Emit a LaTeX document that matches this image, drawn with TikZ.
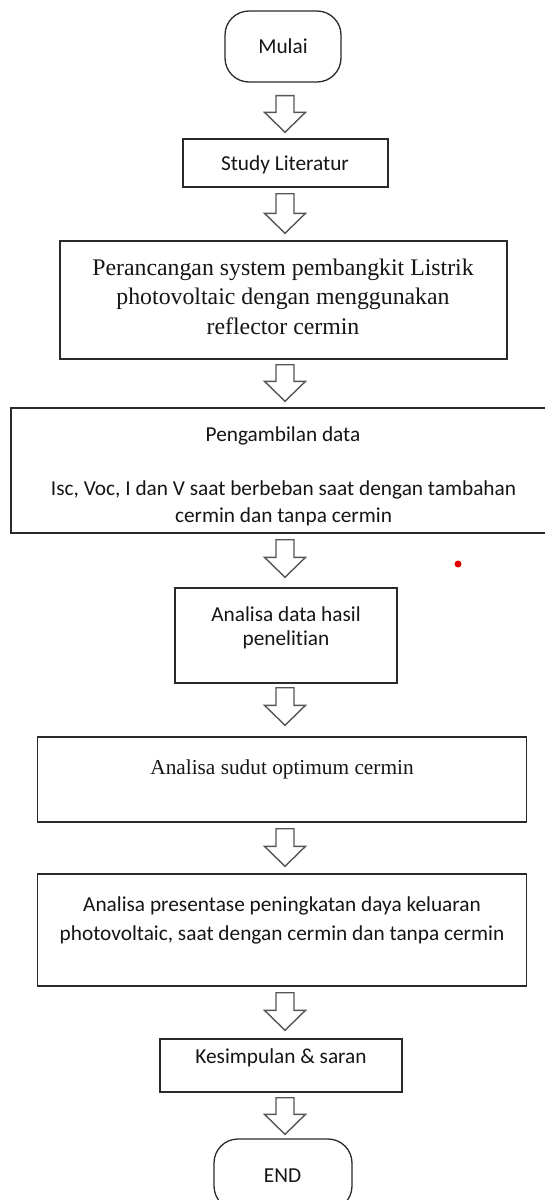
\documentclass[tikz,border=0pt]{standalone}
\usepackage{fontspec}
\setmainfont{Liberation Serif}
\newfontfamily\calib[Ligatures=NoCommon]{Carlito}
\usetikzlibrary{calc}
\definecolor{boxline}{HTML}{2A2A2A}
\definecolor{arrline}{HTML}{555555}
\definecolor{txt}{HTML}{151515}
\tikzset{
  boxnode/.style={draw=boxline, line width=1.4pt, rectangle, inner sep=0pt, fill=white},
  termnode/.style={draw=boxline, line width=1.3pt, rectangle, rounded corners=24pt, inner sep=0pt},
  arrowline/.style={draw=arrline, line width=1.4pt, fill=white, line join=miter},
  sanstxt/.style={font=\calib\fontsize{21.3}{25}\selectfont, text=txt, anchor=base, inner sep=0pt},
  seriftxt/.style={font=\fontsize{21.3}{25}\selectfont, text=txt, anchor=base, inner sep=0pt},
  bigserif/.style={font=\fontsize{23.8}{28}\selectfont, text=txt, anchor=base, inner sep=0pt},
}
% block arrow between two named nodes: #1 upper node, #2 lower node, #3 top gap, #4 tip gap
\newcommand\barrow[4]{%
  \draw[arrowline] let \p1=(#1.south), \p2=(#2.north) in
    (276pt,\y1-#3pt) -- (294pt,\y1-#3pt) -- (294pt,\y2+#4pt+20pt) -- (305.5pt,\y2+#4pt+20pt)
    -- (285pt,\y2+#4pt) -- (264.5pt,\y2+#4pt+20pt) -- (276pt,\y2+#4pt+20pt) -- cycle;}
\begin{document}
\begin{tikzpicture}[x=1pt,y=-1pt]
\clip (0,0) rectangle (545,1200);
\fill[white] (0,0) rectangle (545,1200);

% boxes
\node[termnode, minimum width=116pt, minimum height=71pt] (mulai) at (283,46.5) {};
\node[boxnode, minimum width=205pt, minimum height=48pt] (study) at (285.5,163) {};
\node[boxnode, minimum width=447pt, minimum height=118pt] (peran) at (283.5,300) {};
\node[boxnode, minimum width=549pt, minimum height=125pt] (ambil) at (285.5,470.5) {};
\node[boxnode, minimum width=222pt, minimum height=95pt] (anal) at (286,635.5) {};
\node[boxnode, minimum width=489pt, minimum height=85pt] (sudut) at (282,779.5) {};
\node[boxnode, minimum width=489pt, minimum height=112pt] (pres) at (282,930) {};
\node[boxnode, minimum width=242pt, minimum height=53pt] (kesim) at (281,1065.5) {};
\node[termnode, minimum width=138pt, minimum height=71pt] (end) at (283,1174.5) {};

% texts
\node[sanstxt] (tmulai) at (283,53) {Mulai};
\node[sanstxt] (tstudy) at (285,170) {Study Literatur};
\node[bigserif] (tp1) at (283,275) {Perancangan system pembangkit Listrik};
\node[bigserif] (tp2) at (283,304.5) {photovoltaic dengan menggunakan};
\node[bigserif] (tp3) at (283,334) {reflector cermin};
\node[sanstxt] (ta1) at (283,441) {Pengambilan data};
\node[sanstxt] (ta2) at (283.5,495) {Isc, Voc, I dan V saat berbeban saat dengan tambahan};
\node[sanstxt] (ta3) at (283.5,522) {cermin dan tanpa cermin};
\node[sanstxt] (tn1) at (286,621) {Analisa data hasil};
\node[sanstxt] (tn2) at (286,645) {penelitian};
\node[seriftxt] (ts1) at (282,774) {Analisa sudut optimum cermin};
\node[sanstxt] (tr1) at (282,911) {Analisa presentase peningkatan daya keluaran};
\node[sanstxt] (tr2) at (282,940) {photovoltaic, saat dengan cermin dan tanpa cermin};
\node[sanstxt] (tk1) at (281,1063) {Kesimpulan \& saran};
\node[sanstxt] (tend) at (282.5,1182) {END};

% block arrows
\barrow{mulai}{study}{13}{6}
\barrow{study}{peran}{6}{7}
\barrow{peran}{ambil}{5}{6}
\barrow{ambil}{anal}{6}{10}
\barrow{anal}{sudut}{4}{11}
\barrow{sudut}{pres}{6}{7}
\barrow{pres}{kesim}{6}{8}
\barrow{kesim}{end}{5}{4}

% red dot
\fill[red!90!black] (458,564) circle (3.5pt);
\end{tikzpicture}
\end{document}
